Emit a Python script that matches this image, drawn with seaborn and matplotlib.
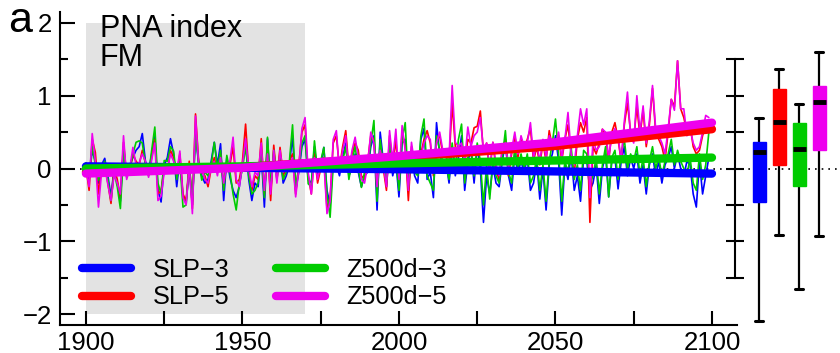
import numpy as np
import pandas as pd
import matplotlib
matplotlib.use("Agg")
import matplotlib.pyplot as plt
import seaborn as sns
from matplotlib.lines import Line2D
from matplotlib.ticker import MultipleLocator

# ---------------- data ----------------
years = list(range(1900, 2100))

slp3 = [
    0.05, -0.15, 0.25, 0.10, -0.20, 0.05, 0.14, -0.10, -0.38, 0.00,
    -0.20, -0.45, 0.30, -0.12, 0.05, 0.15, 0.25, 0.30, 0.48, 0.10,
    -0.05, 0.20, 0.45, -0.30, -0.46, 0.05, 0.15, 0.41, 0.20, -0.25,
    0.15, -0.40, -0.45, 0.00, -0.50, 0.50, 0.05, -0.10, -0.20, -0.15,
    0.10, 0.36, 0.05, 0.34, -0.44, 0.15, -0.12, -0.30, -0.40, -0.25,
    0.05, 0.35, -0.15, -0.44, -0.20, -0.25, 0.20, -0.53, 0.41, -0.30,
    0.20, -0.10, 0.20, -0.20, -0.10, 0.05, 0.45, -0.30, -0.05, 0.30,
    0.40, -0.15, -0.20, 0.30, -0.10, 0.05, 0.29, -0.30, -0.50, 0.10,
    0.05, -0.10, 0.15, 0.35, -0.10, 0.00, 0.20, -0.05, -0.25, -0.10,
    -0.05, 0.30, 0.45, -0.57, 0.50, 0.10, -0.25, 0.30, -0.10, 0.10,
    -0.39, 0.35, 0.40, -0.30, 0.20, -0.10, -0.20, 0.40, 0.55, -0.15,
    -0.05, -0.40, 0.63, 0.20, 0.05, 0.10, -0.20, 0.30, -0.10, 0.15,
    0.45, -0.30, 0.10, 0.25, -0.20, 0.30, 0.00, -0.74, -0.10, -0.35,
    0.05, -0.20, -0.25, 0.10, 0.35, -0.10, -0.30, 0.20, -0.05, 0.10,
    -0.05, 0.15, -0.30, -0.20, 0.10, -0.42, 0.00, -0.57, 0.05, 0.20,
    0.45, 0.10, -0.64, 0.05, -0.15, 0.20, -0.30, -0.10, -0.45, 0.15,
    0.10, -0.30, -0.20, 0.05, -0.48, 0.00, 0.20, -0.39, 0.10, 0.15,
    -0.28, 0.10, 0.30, -0.10, 0.15, 0.00, 0.20, -0.20, 0.05, -0.35,
    0.05, 0.20, -0.10, 0.10, -0.20, 0.05, 0.15, 0.30, 0.00, 0.20,
    0.00, -0.10, 0.10, 0.05, -0.35, -0.53, 0.10, -0.35, -0.10, 0.15,
]

z500d3 = [
    0.08, -0.10, 0.30, 0.05, -0.16, 0.02, 0.10, -0.15, -0.44, -0.05,
    -0.25, -0.55, 0.25, -0.05, 0.00, 0.20, 0.36, 0.38, 0.35, 0.05,
    -0.10, 0.25, 0.57, -0.20, -0.35, 0.11, 0.10, 0.30, 0.24, -0.15,
    0.10, -0.53, -0.50, 0.05, -0.45, 0.45, 0.10, -0.16, -0.05, -0.10,
    0.05, 0.36, 0.00, 0.25, -0.30, 0.18, -0.05, -0.35, -0.57, -0.20,
    0.00, 0.30, -0.10, -0.35, -0.30, -0.20, 0.25, -0.40, 0.43, -0.25,
    0.25, -0.15, 0.15, -0.15, -0.05, 0.10, 0.60, -0.25, 0.00, 0.35,
    0.45, -0.21, -0.25, 0.38, -0.05, 0.10, 0.29, -0.35, -0.67, 0.05,
    0.10, -0.05, 0.10, 0.30, -0.15, 0.10, 0.30, 0.00, -0.26, -0.05,
    0.00, 0.35, 0.66, -0.45, 0.40, 0.05, -0.20, 0.35, -0.05, 0.15,
    -0.30, 0.40, 0.63, -0.25, 0.25, -0.05, -0.10, 0.45, 0.68, -0.10,
    -0.20, -0.30, 0.45, 0.25, 0.10, 0.05, -0.15, 0.35, 0.00, 0.40,
    0.61, -0.20, 0.15, 0.30, -0.10, 0.35, 0.10, -0.50, 0.05, -0.42,
    0.10, -0.10, -0.20, 0.15, 0.52, -0.05, -0.20, 0.30, 0.00, 0.20,
    0.00, 0.20, -0.20, -0.10, 0.15, -0.30, 0.05, -0.45, 0.10, 0.35,
    0.68, 0.20, -0.45, 0.10, -0.05, 0.30, -0.15, 0.05, -0.30, 0.25,
    0.20, -0.20, -0.10, 0.15, -0.35, 0.05, 0.30, -0.39, 0.15, 0.25,
    -0.15, 0.20, 0.40, 0.00, 0.20, 0.10, 0.30, -0.10, 0.15, -0.25,
    0.10, 0.30, 0.00, 0.15, -0.10, 0.10, 0.20, 0.40, 0.05, 0.25,
    0.10, 0.00, -0.10, 0.15, -0.20, -0.30, 0.20, -0.15, 0.05, 0.50,
]

slp5 = [
    0.02, -0.30, 0.40, 0.22, -0.35, 0.00, 0.05, -0.20, -0.48, 0.02,
    -0.15, -0.40, 0.36, -0.10, -0.05, 0.20, 0.10, 0.05, 0.25, 0.08,
    -0.08, 0.15, 0.40, -0.35, -0.30, 0.00, -0.05, 0.25, 0.15, -0.10,
    0.20, -0.35, -0.45, 0.10, -0.55, 0.75, 0.10, -0.05, -0.10, -0.25,
    0.00, 0.15, -0.05, 0.20, -0.25, 0.10, 0.05, 0.30, -0.20, -0.15,
    0.10, 0.61, -0.05, -0.30, -0.10, -0.15, 0.41, -0.35, 0.30, -0.44,
    0.32, -0.15, 0.29, -0.10, 0.00, 0.10, 0.20, -0.35, 0.05, 0.50,
    0.60, -0.10, -0.35, 0.20, -0.20, 0.00, 0.15, -0.55, -0.40, 0.35,
    0.45, 0.00, 0.30, 0.52, 0.00, 0.20, 0.35, 0.25, -0.10, -0.15,
    0.10, 0.45, 0.40, -0.30, 0.30, 0.00, -0.30, 0.45, 0.05, 0.40,
    -0.20, 0.50, 0.30, -0.44, 0.30, 0.00, 0.15, 0.20, 0.40, 0.52,
    0.35, -0.10, 0.40, 0.45, 0.20, 0.15, 0.10, 0.90, 0.30, 0.25,
    0.30, 0.05, 0.40, 0.35, 0.56, 0.58, 0.79, 0.20, 0.35, -0.05,
    0.36, 0.00, -0.16, 0.25, 0.40, -0.10, 0.20, 0.45, 0.15, 0.40,
    0.25, 0.40, 0.55, 0.10, 0.30, 0.05, 0.35, 0.10, 0.52, 0.30,
    0.35, 0.45, 0.10, 0.40, 0.60, 0.20, -0.08, 0.40, 0.63, 0.50,
    0.70, -0.74, 0.30, 0.20, 0.35, 0.54, 0.45, 0.10, 0.50, 0.63,
    0.40, 0.10, 0.60, 0.90, 0.50, 0.40, 0.85, 0.45, 0.80, 0.30,
    0.60, 1.10, 0.50, 0.40, 0.30, 0.11, 0.50, 0.95, 0.85, 1.48,
    0.82, 0.70, 0.50, 0.60, 0.30, 0.20, 0.25, 0.45, 0.60, 0.65,
]

z500d5 = [
    0.00, -0.25, 0.48, 0.10, -0.53, -0.05, 0.02, -0.22, -0.44, -0.08,
    -0.20, -0.35, 0.45, -0.15, 0.00, 0.29, 0.05, 0.08, 0.20, 0.10,
    -0.12, 0.12, 0.35, -0.44, -0.38, -0.05, -0.02, 0.20, 0.10, -0.05,
    0.24, -0.40, -0.50, 0.05, -0.62, 0.72, 0.06, 0.00, -0.15, -0.20,
    0.02, 0.10, -0.10, 0.15, -0.20, 0.05, 0.10, 0.43, -0.15, -0.25,
    0.05, 0.41, 0.00, -0.25, -0.05, -0.10, 0.35, -0.30, 0.20, -0.35,
    0.25, -0.20, 0.25, -0.05, 0.05, 0.05, 0.15, -0.39, 0.00, 0.55,
    0.70, -0.05, -0.35, 0.15, -0.15, 0.05, 0.10, -0.62, -0.45, 0.40,
    0.52, -0.05, 0.25, 0.45, -0.05, 0.25, 0.43, 0.15, -0.15, -0.20,
    0.05, 0.50, 0.35, -0.25, 0.25, 0.05, -0.25, 0.52, 0.10, 0.54,
    -0.15, 0.59, 0.25, -0.30, 0.36, 0.05, 0.20, 0.15, 0.35, 0.45,
    0.40, -0.05, 0.35, 0.50, 0.25, 0.20, 0.15, 1.14, 0.36, 0.30,
    0.35, 0.10, 0.57, 0.30, 0.45, 0.50, 0.70, 0.25, 0.35, 0.00,
    0.36, 0.05, -0.10, 0.30, 0.35, 0.00, 0.25, 0.50, 0.20, 0.45,
    0.30, 0.35, 0.63, 0.15, 0.35, 0.10, 0.40, 0.15, 0.45, 0.35,
    0.30, 0.50, 0.15, 0.40, 0.77, 0.20, 0.05, 0.45, 0.82, 0.60,
    0.82, -0.40, 0.40, 0.25, 0.30, 0.54, 0.50, 0.15, 0.45, 0.55,
    0.45, 0.10, 0.65, 1.05, 0.45, 0.35, 1.00, 0.50, 0.86, 0.35,
    0.65, 1.14, 0.55, 0.45, 0.35, 0.20, 0.55, 0.95, 0.80, 1.48,
    0.82, 0.82, 0.45, 0.55, 0.35, 0.25, 0.30, 0.50, 0.73, 0.70,
]

# trend curves (read at 50-year points)
trend_years = [1900, 1950, 2000, 2050, 2100]
trend_slp3 = [0.03, 0.01, -0.01, -0.04, -0.07]
trend_slp5 = [-0.05, 0.02, 0.15, 0.31, 0.54]
trend_z500d3 = [0.00, 0.03, 0.07, 0.11, 0.15]
trend_z500d5 = [-0.07, 0.01, 0.17, 0.36, 0.63]

series_names = ["SLP\u22123", "SLP\u22125", "Z500d\u22123", "Z500d\u22125"]
colors = ["#0000ff", "#ff0000", "#00cc00", "#ee00ee"]

# box plot statistics (right panel)
box_whislo = [-2.10, -0.92, -1.66, -0.93]
box_q1 = [-0.46, 0.05, -0.24, 0.25]
box_med = [0.23, 0.64, 0.27, 0.92]
box_q3 = [0.37, 1.09, 0.63, 1.13]
box_whishi = [0.70, 1.37, 0.88, 1.60]

# ---------------- style ----------------
sns.set_theme(style="white")
plt.rcParams["font.family"] = ["Liberation Sans", "DejaVu Sans"]
plt.rcParams["axes.unicode_minus"] = True
plt.rcParams["text.color"] = "black"
plt.rcParams["xtick.color"] = "black"
plt.rcParams["ytick.color"] = "black"

fig = plt.figure(figsize=(8.4, 3.53), dpi=100)
ax = fig.add_axes([0.0714, 0.0793, 0.8060, 0.8867])
axb = fig.add_axes([0.875, 0.0793, 0.125, 0.8867])
axb.patch.set_alpha(0)

# long-form frames
df = pd.DataFrame({
    "year": years * 4,
    "value": slp3 + slp5 + z500d3 + z500d5,
    "series": [n for n in series_names for _ in years],
})
dft = pd.DataFrame({
    "year": trend_years * 4,
    "value": trend_slp3 + trend_slp5 + trend_z500d3 + trend_z500d5,
    "series": [n for n in series_names for _ in trend_years],
})
pal = dict(zip(series_names, colors))
hue_order = list(series_names)

# shaded reference period
ax.fill_between([1900, 1970], -2, 2, color="#e3e3e3", lw=0, zorder=0)
ax.axhline(0, color="black", ls=(0, (1, 3)), lw=1.2, zorder=1)

sns.lineplot(data=df, x="year", y="value", hue="series", hue_order=hue_order,
             palette=pal, lw=1.2, legend=False, errorbar=None, ax=ax, zorder=3)
sns.lineplot(data=dft, x="year", y="value", hue="series", hue_order=hue_order,
             palette=pal, lw=6, legend=False, errorbar=None, ax=ax, zorder=4,
             solid_capstyle="round")

ax.set_xlim(1891.7, 2108)
ax.set_ylim(-2.15, 2.15)
ax.set_xlabel("")
ax.set_ylabel("")
for s in ["top", "right"]:
    ax.spines[s].set_visible(False)
for s in ["left", "bottom"]:
    ax.spines[s].set_color("black")
    ax.spines[s].set_linewidth(1.5)

ax.xaxis.set_major_locator(MultipleLocator(50))
ax.xaxis.set_minor_locator(MultipleLocator(25))
ax.yaxis.set_major_locator(MultipleLocator(1))
ax.yaxis.set_minor_locator(MultipleLocator(0.5))
ax.tick_params(axis="x", which="both", direction="in", length=10, width=1.5,
               bottom=True, top=False, color="black")
ax.tick_params(axis="x", which="major", labelsize=18.5, pad=4, labelcolor="black")
ax.tick_params(axis="y", which="major", direction="in", length=11, width=1.5,
               left=True, right=False, labelsize=18.5, pad=6, color="black", labelcolor="black")
ax.tick_params(axis="y", which="minor", direction="in", length=6, width=1.5,
               left=True, right=False, color="black")
ax.grid(False)

# legend
handles = [Line2D([], [], color=c, lw=6, solid_capstyle="round") for c in colors]
ax.legend(handles, series_names, ncol=2, frameon=False, loc="lower left",
          bbox_to_anchor=(0.032, 0.05), borderaxespad=0, borderpad=0,
          handlelength=1.95, handletextpad=0.85, columnspacing=1.85,
          labelspacing=0.15, fontsize=18.2)

# texts
fig.text(0.0095, 0.909, "a", fontsize=31, va="baseline", ha="left")
fig.text(0.119, 0.895, "PNA index", fontsize=22, va="baseline", ha="left")
fig.text(0.119, 0.813, "FM", fontsize=22, va="baseline", ha="left")

# ---------------- box panel ----------------
stats = []
for i in range(4):
    stats.append(dict(med=box_med[i], q1=box_q1[i], q3=box_q3[i],
                      whislo=box_whislo[i], whishi=box_whishi[i], fliers=[]))
positions = [1.2, 2.2, 3.2, 4.2]
axb.axhline(0, color="black", ls=(0, (1, 3)), lw=1.2, zorder=0)
bp = axb.bxp(stats, positions=positions, widths=0.65, patch_artist=True,
             showfliers=False, capwidths=0.4,
             medianprops=dict(color="black", lw=3.5),
             whiskerprops=dict(color="black", lw=1.6),
             capprops=dict(color="black", lw=2.2),
             boxprops=dict(lw=1.0))
for patch, c in zip(bp["boxes"], colors):
    patch.set_facecolor(c)
    patch.set_edgecolor(c)
    patch.set_zorder(3)
for m in bp["medians"]:
    m.set_zorder(4)

axb.set_xlim(0, 5.25)
axb.set_ylim(-2.15, 2.15)
for s in ["top", "right", "bottom"]:
    axb.spines[s].set_visible(False)
axb.spines["left"].set_color("black")
axb.spines["left"].set_linewidth(1.5)
axb.spines["left"].set_bounds(-1.5, 1.5)
axb.set_yticks([-1.5, -1.0, -0.5, 0.0, 0.5, 1.0, 1.5])
axb.set_xticks([])
axb.tick_params(axis="y", direction="inout", length=13, width=1.5, left=True,
                labelleft=False, color="black")
axb.grid(False)

fig.savefig("out.png", dpi=100)
